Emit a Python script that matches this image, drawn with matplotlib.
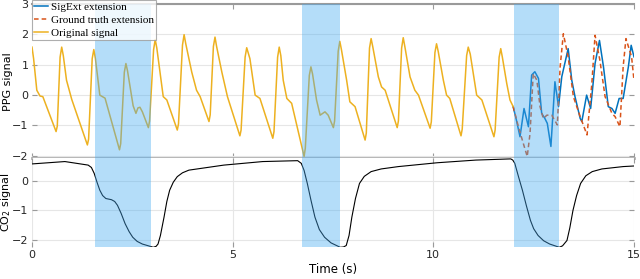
import matplotlib
matplotlib.use("Agg")
import matplotlib.pyplot as plt

# PPG original signal (orange), t in s
orig_t = [0.0, 0.04, 0.12, 0.2, 0.27, 0.6, 0.63, 0.70, 0.74, 0.78, 0.86, 0.99, 1.38, 1.41,
          1.50, 1.54, 1.58, 1.69, 1.82, 2.18, 2.21, 2.30, 2.34, 2.38, 2.52, 2.59, 2.64, 2.69,
          2.75, 2.9, 2.93, 3.03, 3.07, 3.11, 3.27, 3.36, 3.62, 3.65, 3.75, 3.79, 3.83, 3.98,
          4.1, 4.19, 4.41, 4.44, 4.52, 4.56, 4.6, 4.73, 4.87, 5.18, 5.21, 5.31, 5.35, 5.43,
          5.56, 5.68, 6.0, 6.03, 6.12, 6.16, 6.2, 6.26, 6.35, 6.47, 6.78, 6.81, 6.91, 6.95,
          6.99, 7.09, 7.18, 7.3, 7.38, 7.51, 7.54, 7.63, 7.67, 7.71, 7.84, 7.92, 8.05, 8.3,
          8.33, 8.41, 8.45, 8.49, 8.63, 8.71, 8.8, 9.1, 9.13, 9.21, 9.25, 9.29, 9.42, 9.54,
          9.63, 9.92, 9.95, 10.04, 10.08, 10.12, 10.25, 10.33, 10.41, 10.69, 10.72, 10.83,
          10.87, 10.92, 11.08, 11.21, 11.51, 11.54, 11.64, 11.68, 11.72, 11.83, 11.91, 11.99]
orig_v = [1.58, 1.2, 0.16, -0.03, -0.05, -1.2, -1.02, 1.25, 1.58, 1.3, 0.49, -0.14, -1.64, -1.45,
          1.2, 1.5, 1.2, 0.0, -0.1, -1.8, -1.6, 0.75, 1.04, 0.8, -0.35, -0.6, -0.42, -0.4,
          -0.55, -1.07, -0.85, 1.5, 1.83, 1.55, -0.05, -0.16, -1.15, -0.95, 1.65, 1.99, 1.7, 0.76,
          0.16, -0.05, -0.87, -0.65, 1.6, 1.91, 1.6, 0.76, -0.05, -1.34, -1.15, 1.25, 1.56, 1.2,
          0.0, -0.11, -1.42, -1.2, 1.25, 1.58, 1.3, 0.49, -0.11, -0.27, -2.02, -1.75, 0.65, 0.93,
          0.7, -0.16, -0.66, -0.55, -0.66, -1.07, -0.85, 1.45, 1.77, 1.5, 0.49, -0.22, -0.38, -1.48,
          -1.25, 1.55, 1.86, 1.6, 0.6, 0.27, 0.16, -1.07, -0.85, 1.55, 1.89, 1.6, 0.6, 0.16,
          0.0, -1.09, -0.88, 1.4, 1.69, 1.45, 0.49, 0.0, -0.11, -1.34, -1.12, 1.3,
          1.58, 1.35, 0.0, -0.16, -1.37, -1.15, 1.25, 1.53, 1.25, 0.38, -0.16, -0.38]

# SigExt extension (blue)
ext_t = [11.99, 12.07, 12.16, 12.26, 12.37, 12.45, 12.53, 12.62, 12.7, 12.78, 12.84, 12.93,
         13.03, 13.12, 13.2, 13.36, 13.45, 13.53, 13.66, 13.7, 13.82, 13.92, 14.03, 14.14,
         14.24, 14.36, 14.45, 14.53, 14.63, 14.73, 14.86, 14.93, 15.0]
ext_v = [-0.38, -0.82, -1.37, -0.44, -1.04, 0.66, 0.77, 0.55, -0.6, -0.77, -0.93, -1.69,
         0.44, -0.38, 0.6, 1.53, 0.49, -0.05, -0.77, -0.87, 0.0, -0.44, 1.04, 1.8,
         0.93, -0.38, -0.44, -0.6, -0.11, -0.11, 0.93, 1.64, 1.26]

# Ground truth extension (red dashed)
gt_t = [11.99, 12.12, 12.24, 12.34, 12.41, 12.49, 12.58, 12.66, 12.74, 12.83, 12.95, 13.09,
        13.16, 13.24, 13.36, 13.49, 13.66, 13.83, 13.95, 14.03, 14.15, 14.28, 14.45, 14.53,
        14.65, 14.73, 14.8, 14.94, 15.0]
gt_v = [-0.38, -1.04, -1.58, -2.02, -1.26, 0.71, 0.49, -0.38, -0.77, -0.66, -0.66, -0.98,
        0.93, 2.02, 1.26, -0.05, -0.71, -1.31, 0.38, 1.97, 1.15, -0.05, -0.6, -0.71,
        -1.04, 0.93, 1.86, 1.26, 0.49]

# CO2 signal (black)
co2_t = [0.0, 0.82, 1.4, 1.48, 1.55, 1.62, 1.69, 1.76, 1.84, 1.98, 2.06, 2.13, 2.22, 2.32,
         2.42, 2.51, 2.62, 2.75, 2.9, 3.02, 3.09, 3.14, 3.2, 3.29, 3.36, 3.43, 3.52, 3.62,
         3.75, 3.91, 4.78, 5.75, 6.62, 6.71, 6.78, 6.86, 6.95, 7.05, 7.16, 7.29, 7.45, 7.68,
         7.76, 7.83, 7.9, 7.97, 8.06, 8.16, 8.28, 8.45, 8.7, 9.13, 10.1, 11.06, 11.93, 11.98,
         12.03, 12.12, 12.22, 12.32, 12.42, 12.5, 12.61, 12.75, 12.9, 13.14, 13.22, 13.33,
         13.4, 13.48, 13.57, 13.67, 13.8, 13.96, 14.2, 14.73, 15.0]
co2_v = [0.57, 0.65, 0.53, 0.45, 0.25, -0.05, -0.32, -0.5, -0.6, -0.64, -0.7, -0.83, -1.1, -1.45,
         -1.72, -1.91, -2.05, -2.14, -2.2, -2.25, -2.22, -2.14, -1.85, -1.23, -0.7, -0.32, -0.05, 0.14,
         0.27, 0.36, 0.53, 0.65, 0.68, 0.59, 0.35, -0.09, -0.65, -1.23, -1.65, -1.91, -2.1, -2.25,
         -2.24, -2.19, -1.85, -1.23, -0.6, -0.09, 0.15, 0.31, 0.4, 0.48, 0.61, 0.70, 0.74, 0.7,
         0.59, 0.15, -0.32, -0.85, -1.34, -1.62, -1.85, -2.03, -2.14, -2.25, -2.2, -2.02,
         -1.6, -1.0, -0.5, -0.09, 0.17, 0.31, 0.4, 0.48, 0.5]

# masked windows
spans = [(1.57, 2.97), (6.72, 7.67), (12.0, 13.12)]

blue = "#0072BD"
red = "#D95319"
yellow = "#EDB120"
grey = "#9a9a9a"
shade = (0.27, 0.67, 0.95)

fig = plt.figure(figsize=(6.4, 2.79), dpi=100)
ax1 = fig.add_axes([0.05, 0.4326, 0.9406, 0.5531])
ax2 = fig.add_axes([0.05, 0.1147, 0.9406, 0.3179])

l1, = ax1.plot(ext_t, ext_v, color=blue, lw=1.1, label="SigExt extension")
l2, = ax1.plot(gt_t, gt_v, color=red, lw=1.1, ls=(0, (3, 2)), label="Ground truth extension")
l3, = ax1.plot(orig_t, orig_v, color=yellow, lw=1.1, label="Original signal")
ax2.plot(co2_t, co2_v, color="black", lw=0.8)

for ax in (ax1, ax2):
    for a, b in spans:
        ax.axvspan(a, b, color=shade, alpha=0.4, lw=0, zorder=5)
    ax.set_xlim(0, 15)
    ax.set_xticks([0, 5, 10, 15])
    ax.tick_params(direction="in", length=3.5, color=grey, width=0.8, pad=2.5,
                   labelsize=8, labelcolor="#262626", top=True, right=True)
    for s in ("left", "right"):
        ax.spines[s].set_visible(False)
    ax.grid(axis="y", color="#e6e6e6", lw=0.8)

ax1.set_ylim(-2.08, 3)
ax1.set_yticks([-2, -1, 0, 1, 2, 3])
ax1.tick_params(labelbottom=False)
ax1.spines["top"].set_color(grey)
ax1.spines["top"].set_linewidth(1.5)
ax1.spines["bottom"].set_color("#b0b0b0")
ax1.spines["bottom"].set_linewidth(2)
ax1.set_ylabel("PPG signal", fontsize=8)

ax2.set_ylim(-2.24, 0.76)
ax2.set_yticks([-2, -1, 0])
ax2.grid(axis="x", color="#e6e6e6", lw=0.8)
ax2.spines["top"].set_visible(False)
ax2.spines["bottom"].set_visible(False)
ax2.set_ylabel("CO$_2$ signal", fontsize=8)
ax2.set_xlabel("Time (s)", fontsize=8.5, labelpad=2)
ax1.yaxis.set_label_coords(-0.031, 0.5)
ax2.yaxis.set_label_coords(-0.031, 0.5)

leg = fig.legend(handles=[l1, l2, l3], loc="upper left", bbox_to_anchor=(0.05, 1.0),
                 prop={"family": "Liberation Serif", "size": 8}, frameon=True, fancybox=False,
                 handlelength=1.2, handletextpad=0.3, borderpad=0.2, labelspacing=0.3,
                 borderaxespad=0)
leg.get_frame().set_edgecolor(grey)
leg.get_frame().set_linewidth(0.8)
leg.set_zorder(10)

fig.savefig("out.png", dpi=100)
